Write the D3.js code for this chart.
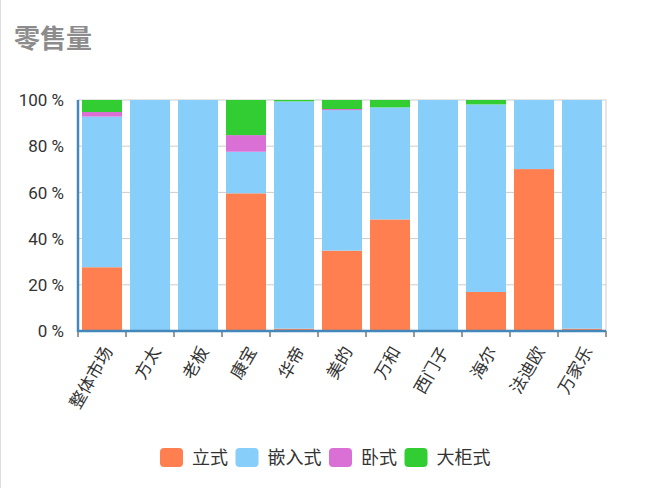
<!DOCTYPE html>
<html>
<head>
<meta charset="utf-8">
<script src="https://cdn.jsdelivr.net/npm/d3@7"></script>
<style>
  html, body { margin: 0; padding: 0; background: #fff; }
  svg { display: block; font-family: "Noto Sans CJK SC", "Noto Sans", sans-serif; }
</style>
</head>
<body>
<div id="chart"></div>
<script>
// categories and series (percent of retail volume)
const brands = ['整体市场', '方太', '老板', '康宝', '华帝', '美的', '万和', '西门子', '海尔', '法迪欧', '万家乐']
const seriesNames = ['立式', '嵌入式', '卧式', '大柜式']
const liShi     = [27.6, 0,   0,   59.6, 1.0,  34.8, 48.3, 0,   16.9, 70.1, 1.0]
const qianRuShi = [65.2, 100, 100, 18.0, 98.4, 60.8, 48.5, 100, 81.2, 29.9, 99.0]
const woShi     = [2.0,  0,   0,   7.2,  0,    0.5,  0,    0,   0,    0,    0]
const daGuiShi  = [5.2,  0,   0,   15.2, 0.6,  3.9,  3.2,  0,   1.9,  0,    0]
const yTicks = [0, 20, 40, 60, 80, 100]
const colors = ['#ff7f50', '#87cefa', '#da70d6', '#32cd32']

const W = 650, H = 488
const margin = {top: 100, right: 44, bottom: 157, left: 78}
const innerW = W - margin.left - margin.right
const innerH = H - margin.top - margin.bottom

const svg = d3.select('#chart').append('svg')
    .attr('width', W)
    .attr('height', H)

// thin frame line on the left edge
svg.append('line')
    .attr('x1', 0.5).attr('x2', 0.5).attr('y1', 0).attr('y2', H)
    .attr('stroke', '#ddd')

svg.append('text')
    .attr('x', 14).attr('y', 48)
    .attr('fill', '#8c8c8c')
    .attr('font-size', 26)
    .attr('font-weight', 'bold')
    .text('零售量')

const g = svg.append('g')
    .attr('transform', 'translate(' + margin.left + ',' + margin.top + ')')

const x = d3.scaleBand()
    .domain(brands)
    .range([0, innerW])
    .paddingInner(1 / 6)
    .paddingOuter(1 / 12)

const y = d3.scaleLinear().domain([0, 100]).range([innerH, 0])

// grid
g.selectAll('line.grid')
    .data(yTicks.slice(1, -1))
    .enter().append('line')
    .attr('class', 'grid')
    .attr('x1', 0).attr('x2', innerW)
    .attr('y1', d => y(d)).attr('y2', d => y(d))
    .attr('stroke', '#ccc')

// frame top/right
g.append('rect')
    .attr('x', 0).attr('y', 0)
    .attr('width', innerW).attr('height', innerH)
    .attr('fill', 'none')
    .attr('stroke', '#ccc')

// stacked bars
const table = brands.map((b, i) => ({
    brand: b,
    '立式': liShi[i], '嵌入式': qianRuShi[i], '卧式': woShi[i], '大柜式': daGuiShi[i]
}))
const stacked = d3.stack().keys(seriesNames)(table)

g.selectAll('g.layer')
    .data(stacked)
    .enter().append('g')
    .attr('class', 'layer')
    .attr('fill', (d, i) => colors[i])
    .selectAll('rect')
    .data(d => d)
    .enter().append('rect')
    .attr('x', d => x(d.data.brand))
    .attr('width', x.bandwidth())
    .attr('y', d => y(d[1]))
    .attr('height', d => y(d[0]) - y(d[1]))

// y axis labels
g.selectAll('text.ylab')
    .data(yTicks)
    .enter().append('text')
    .attr('class', 'ylab')
    .attr('x', -14)
    .attr('y', d => y(d))
    .attr('dy', '0.36em')
    .attr('text-anchor', 'end')
    .attr('font-family', 'Roboto, sans-serif')
    .attr('font-size', 17)
    .attr('fill', '#333')
    .text(d => d + ' %')

// x ticks at band boundaries
const boundaries = d3.range(brands.length + 1).map(i => i * innerW / brands.length)
g.selectAll('line.xtick')
    .data(boundaries)
    .enter().append('line')
    .attr('class', 'xtick')
    .attr('x1', d => d).attr('x2', d => d)
    .attr('y1', innerH).attr('y2', innerH + 6)
    .attr('stroke', '#333')

// axis lines
g.append('line')
    .attr('x1', 0).attr('x2', innerW)
    .attr('y1', innerH).attr('y2', innerH)
    .attr('stroke', '#48b').attr('stroke-width', 2.5)
g.append('line')
    .attr('x1', 0).attr('x2', 0)
    .attr('y1', 0).attr('y2', innerH + 1)
    .attr('stroke', '#48b').attr('stroke-width', 2.5)

// x labels rotated
g.selectAll('text.xlab')
    .data(brands)
    .enter().append('text')
    .attr('class', 'xlab')
    .attr('transform', d => 'translate(' + (x(d) + x.bandwidth() / 2 + 6) + ',' + (innerH + 17) + ') rotate(-60)')
    .attr('text-anchor', 'end')
    .attr('dy', '0.36em')
    .attr('font-size', 17)
    .attr('fill', '#333')
    .text(d => d)

// legend (CJK glyphs are full width, so width = chars * size)
const legendSize = 18
const legend = svg.append('g')
let lx = 160
seriesNames.forEach((name, i) => {
    const item = legend.append('g').attr('transform', 'translate(' + lx + ',448)')
    item.append('rect')
        .attr('width', 23).attr('height', 19)
        .attr('rx', 4).attr('ry', 4)
        .attr('fill', colors[i])
    item.append('text')
        .attr('x', 32).attr('y', 9.5)
        .attr('dy', '0.36em')
        .attr('font-size', legendSize)
        .attr('fill', '#333')
        .text(name)
    lx += 32 + name.length * legendSize + 7.5
})
</script>
</body>
</html>
